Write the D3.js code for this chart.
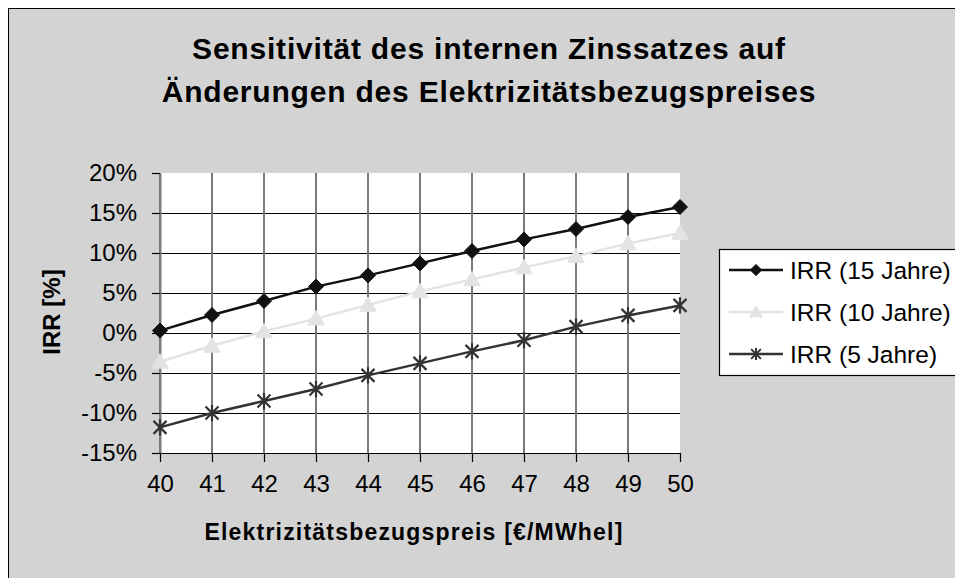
<!DOCTYPE html>
<html>
<head>
<meta charset="utf-8">
<script src="https://cdn.jsdelivr.net/npm/d3@7"></script>
<style>
  body { margin: 0; background: #fff; }
  svg { display: block; font-family: "Liberation Sans", Arial, sans-serif; }
</style>
</head>
<body>
<svg id="chart" width="955" height="578"></svg>
<script>
// data
const prices = [40, 41, 42, 43, 44, 45, 46, 47, 48, 49, 50];
const irr15 = [0.3, 2.25, 4.0, 5.8, 7.2, 8.7, 10.25, 11.7, 13.0, 14.5, 15.75];
const irr10 = [-3.6, -1.6, 0.2, 1.8, 3.5, 5.2, 6.7, 8.2, 9.6, 11.2, 12.5];
const irr5 = [-11.8, -10.0, -8.5, -7.0, -5.3, -3.8, -2.3, -0.9, 0.8, 2.2, 3.45];
const yTicks = [-15, -10, -5, 0, 5, 10, 15, 20];
const seriesNames = ["IRR (15 Jahre)", "IRR (10 Jahre)", "IRR (5 Jahre)"];

const svg = d3.select("#chart");

// outer chart area
svg.append("rect")
  .attr("x", 8.5).attr("y", 8.5)
  .attr("width", 1000).attr("height", 1000)
  .attr("fill", "#d3d3d3")
  .attr("stroke", "#000").attr("stroke-width", 1);

const x = d3.scaleLinear([40, 50], [160, 680]);
const y = d3.scaleLinear([-15, 20], [453, 173]);

// plot area
svg.append("rect")
  .attr("x", x(40)).attr("y", y(20))
  .attr("width", x(50) - x(40)).attr("height", y(-15) - y(20))
  .attr("fill", "#fff");

// horizontal gridlines
svg.append("g").selectAll("line")
  .data(yTicks.filter(d => d > -15 && d < 20))
  .join("line")
  .attr("x1", x(40)).attr("x2", x(50))
  .attr("y1", d => y(d) + 0.5).attr("y2", d => y(d) + 0.5)
  .attr("stroke", "#000").attr("stroke-width", 1.2);

// vertical gridlines
svg.append("g").selectAll("line")
  .data(prices.filter(d => d < 50))
  .join("line")
  .attr("x1", d => x(d)).attr("x2", d => x(d))
  .attr("y1", y(20)).attr("y2", y(-15))
  .attr("stroke", "#7a7a7a").attr("stroke-width", 2);

// axes
const xAxis = d3.axisBottom(x).tickValues(prices).tickFormat(d3.format("d"))
  .tickSize(9).tickSizeOuter(0).tickPadding(13);
const gx = svg.append("g").attr("transform", `translate(0,${y(-15)})`).call(xAxis);
gx.select(".domain").attr("stroke", "#000").attr("stroke-width", 1.2);
gx.selectAll(".tick line").attr("stroke", "#000").attr("stroke-width", 1.2);
gx.selectAll("text").attr("font-size", 24).attr("fill", "#000")
  .attr("font-family", "Liberation Sans, Arial, sans-serif");

const yAxis = d3.axisLeft(y).tickValues(yTicks).tickFormat(d => d + "%")
  .tickSize(8).tickSizeOuter(0).tickPadding(15);
const gy = svg.append("g").attr("transform", `translate(${x(40)},0)`).call(yAxis);
gy.select(".domain").attr("stroke", "#7a7a7a").attr("stroke-width", 2);
gy.selectAll(".tick line").attr("stroke", "#000").attr("stroke-width", 1.2);
gy.selectAll("text").attr("font-size", 24).attr("fill", "#000")
  .attr("font-family", "Liberation Sans, Arial, sans-serif");

// marker shapes
const diamond = s => `M0,${-s}L${s},0L0,${s}L${-s},0Z`;
const triangle = s => `M0,${-s}L${s * 1.05},${s * 0.8}L${-s * 1.05},${s * 0.8}Z`;
const star = s => `M${-s},${-s}L${s},${s}M${-s},${s}L${s},${-s}M0,${-s * 1.25}L0,${s * 1.25}`;

const series = [
  { name: seriesNames[0], values: irr15, color: "#111", marker: diamond, size: 7.5, fill: true },
  { name: seriesNames[1], values: irr10, color: "#e3e3e3", marker: triangle, size: 8, fill: true },
  { name: seriesNames[2], values: irr5, color: "#333", marker: star, size: 6.5, fill: false }
];

const line = d3.line().x((d, i) => x(prices[i])).y(d => y(d));

series.forEach(s => {
  svg.append("path")
    .attr("d", line(s.values))
    .attr("fill", "none").attr("stroke", s.color).attr("stroke-width", 2.5);
  svg.append("g").selectAll("path")
    .data(s.values)
    .join("path")
    .attr("transform", (d, i) => `translate(${x(prices[i])},${y(d)})`)
    .attr("d", s.marker(s.size))
    .attr("fill", s.fill ? s.color : "none")
    .attr("stroke", s.color).attr("stroke-width", s.fill ? 1 : 2.2);
});

// title
const title = svg.append("text")
  .attr("text-anchor", "middle")
  .attr("font-size", 30).attr("font-weight", "bold")
  .attr("letter-spacing", 0.8)
  .attr("fill", "#000");
title.append("tspan").attr("x", 489).attr("y", 59).text("Sensitivität des internen Zinssatzes auf");
title.append("tspan").attr("x", 489).attr("y", 102).text("Änderungen des Elektrizitätsbezugspreises");

// axis titles
svg.append("text")
  .attr("x", 414).attr("y", 540)
  .attr("text-anchor", "middle")
  .attr("font-size", 23).attr("font-weight", "bold").attr("letter-spacing", 1.2)
  .text("Elektrizitätsbezugspreis [€/MWhel]");

svg.append("text")
  .attr("transform", "translate(60,312) rotate(-90)")
  .attr("text-anchor", "middle")
  .attr("font-size", 24).attr("font-weight", "bold")
  .text("IRR [%]");

// legend
const legend = svg.append("g").attr("transform", "translate(719,249)");
legend.append("rect")
  .attr("x", 0.5).attr("y", 0.5).attr("width", 300).attr("height", 126)
  .attr("fill", "#fff").attr("stroke", "#000").attr("stroke-width", 1.2);

const rows = legend.selectAll("g.row")
  .data(series)
  .join("g")
  .attr("class", "row")
  .attr("transform", (d, i) => `translate(0,${21 + i * 42})`);
rows.append("line")
  .attr("x1", 10).attr("x2", 64)
  .attr("stroke", d => d.color).attr("stroke-width", 2.5);
rows.append("path")
  .attr("transform", "translate(37,0)")
  .attr("d", d => d.marker(d.size * 0.75))
  .attr("fill", d => d.fill ? d.color : "none")
  .attr("stroke", d => d.color).attr("stroke-width", d => d.fill ? 1 : 2);
rows.append("text")
  .attr("x", 71).attr("dy", "0.35em")
  .attr("font-size", 24.5)
  .text(d => d.name);
</script>
</body>
</html>
